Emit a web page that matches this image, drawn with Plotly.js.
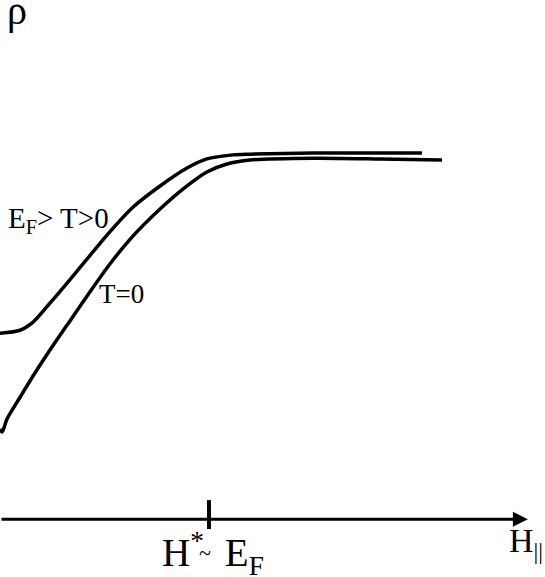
<!DOCTYPE html>
<html>
<head>
<meta charset="utf-8">
<script src="https://cdn.plot.ly/plotly-3.0.1.min.js"></script>
<style>
  html, body { margin: 0; padding: 0; background: #fff; }
  #chart { width: 545px; height: 577px; }
</style>
</head>
<body>
<div id="chart"></div>
<script>
// Field H in units of H* (the tick), resistivity rho in units of the plateau
const hFinite = [0, 0.096, 0.158, 0.239, 0.321, 0.416, 0.512, 0.636, 0.766, 0.895, 0.990, 1.115, 1.196, 1.498, 1.818, 2.019];
const rhoFinite = [0.508, 0.516, 0.538, 0.590, 0.645, 0.710, 0.776, 0.852, 0.910, 0.959, 0.984, 0.995, 0.997, 1.0, 1.0, 1.0];

const hZero = [0, 0.010, 0.033, 0.096, 0.158, 0.239, 0.321, 0.416, 0.526, 0.636, 0.766, 0.895, 0.990, 1.086, 1.196, 1.498, 1.818, 2.115];
const rhoZero = [0.246, 0.238, 0.273, 0.333, 0.391, 0.462, 0.530, 0.609, 0.697, 0.773, 0.847, 0.910, 0.948, 0.970, 0.981, 0.986, 0.984, 0.981];

const hStar = 1;          // marked field H* ~ E_F
const hAxisEnd = 2.526;   // tip of the H axis arrow

const curveLine = { color: 'black', width: 3.5, shape: 'spline', smoothing: 0.8 };

const data = [
    { x: hFinite, y: rhoFinite, type: 'scatter', mode: 'lines', line: curveLine, hoverinfo: 'skip' },
    { x: hZero, y: rhoZero, type: 'scatter', mode: 'lines', line: curveLine, hoverinfo: 'skip' }
];

const serif = 'Liberation Serif, Times New Roman, serif';

const layout = {
    width: 545,
    height: 577,
    margin: { l: 0, r: 0, t: 0, b: 0 },
    paper_bgcolor: 'white',
    plot_bgcolor: 'white',
    showlegend: false,
    hovermode: false,
    font: { family: serif, color: 'black' },
    xaxis: { range: [0, 2.608], visible: false, fixedrange: true },
    yaxis: { range: [-0.158, 1.418], visible: false, fixedrange: true },
    shapes: [
        // tick at H*
        { type: 'line', xref: 'x', yref: 'y', x0: hStar, x1: hStar, y0: 0.052, y1: -0.027,
          line: { color: 'black', width: 4 } }
    ],
    annotations: [
        // H axis with arrow
        { x: hAxisEnd, y: 0, ax: 0, ay: 0, xref: 'x', yref: 'y', axref: 'x', ayref: 'y',
          text: '', showarrow: true, arrowhead: 2, arrowsize: 1, arrowwidth: 3, arrowcolor: 'black', standoff: 0 },
        { x: 0.081, y: 1.388, xref: 'x', yref: 'y', text: 'ρ', showarrow: false,
          xanchor: 'center', yanchor: 'middle', font: { size: 40 } },
        { x: 0.030, y: 0.817, xref: 'x', yref: 'y', text: 'E<sub>F</sub>> T>0', showarrow: false,
          xanchor: 'left', yanchor: 'middle', font: { size: 29 } },
        { x: 0.462, y: 0.615, xref: 'x', yref: 'y', text: 'T=0', showarrow: false,
          xanchor: 'left', yanchor: 'middle', font: { size: 27 } },
        { x: 0.766, y: -0.093, xref: 'x', yref: 'y',
          text: 'H<sup>*</sup><span style="font-size:28px">&nbsp;&nbsp;&nbsp;</span>E<sub>F</sub>', showarrow: false,
          xanchor: 'left', yanchor: 'middle', font: { size: 39 } },
        { x: 0.981, y: -0.092, xref: 'x', yref: 'y', text: '~', showarrow: false,
          xanchor: 'center', yanchor: 'middle', font: { size: 22 } },
        { x: 1, y: -0.066, xref: 'paper', yref: 'y', text: 'H<sub>||</sub>', showarrow: false,
          xanchor: 'right', yanchor: 'middle', font: { size: 34 } }
    ]
};

Plotly.newPlot('chart', data, layout, { staticPlot: true, displayModeBar: false });
</script>
</body>
</html>
